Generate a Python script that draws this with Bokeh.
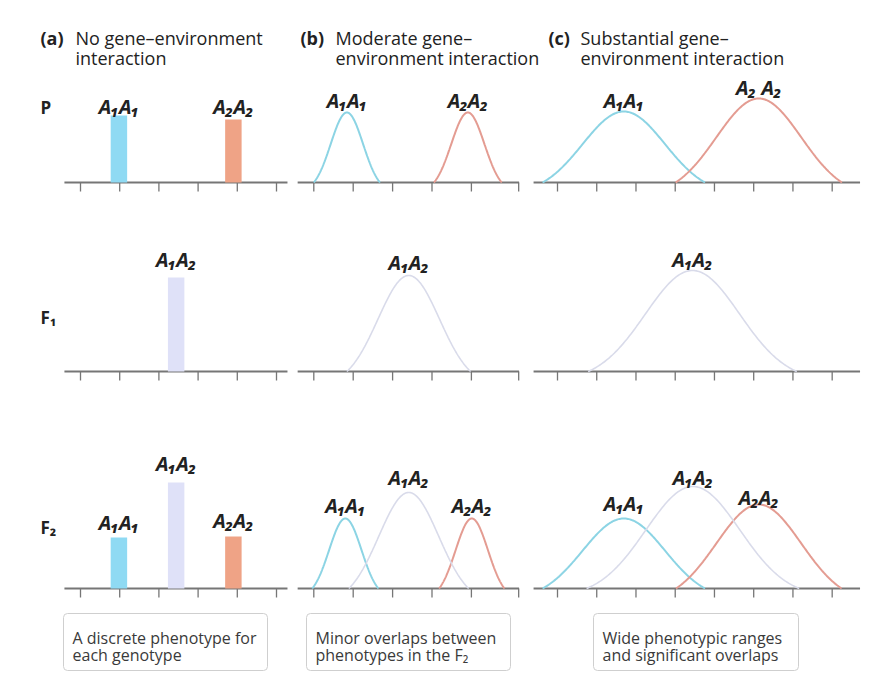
import numpy as np
from bokeh.plotting import figure
from bokeh.models import Range1d, ColumnDataSource
from bokeh.core.properties import value
from bokeh.embed import file_html
from bokeh.resources import INLINE

# ---------------- data ----------------
# phenotype axis ticks (arbitrary phenotype units) for each panel
TICKS_A = [0, 1, 2, 3, 4, 5]
TICKS_B = [0, 1, 2, 3, 4, 5.2]
TICKS_C = [0, 1, 2, 3, 4, 5, 6, 7]
AXIS_A = [-0.41, 5.28]
AXIS_B = [-0.41, 5.21]
AXIS_C = [-0.61, 7.71]

# (a) no gene-environment interaction: one discrete phenotype per genotype
A_P_GENO = ["A₁A₁", "A₂A₂"]
A_P_X = [0.98, 3.90]
A_P_H = [0.67, 0.63]
A_F1_GENO = ["A₁A₂"]
A_F1_X = [2.44]
A_F1_H = [0.94]
A_F2_GENO = ["A₁A₁", "A₁A₂", "A₂A₂"]
A_F2_X = [0.98, 2.44, 3.90]
A_F2_H = [0.51, 1.06, 0.52]

# (b) moderate interaction: phenotype distributions (mean, spread, peak, half-range)
B_P_GENO = ["A₁A₁", "A₂A₂"]
B_P_MEAN = [0.84, 3.91]
B_P_SD = [0.41, 0.42]
B_P_PEAK = [0.70, 0.70]
B_P_HALF = [0.84, 0.86]
B_F1_GENO = ["A₁A₂"]
B_F1_MEAN = [2.41]
B_F1_SD = [0.78]
B_F1_PEAK = [0.96]
B_F1_HALF = [1.57]
B_F2_GENO = ["A₁A₁", "A₁A₂", "A₂A₂"]
B_F2_MEAN = [0.80, 2.41, 4.01]
B_F2_SD = [0.41, 0.76, 0.41]
B_F2_PEAK = [0.70, 0.96, 0.70]
B_F2_HALF = [0.84, 1.52, 0.83]

# (c) substantial interaction
C_P_GENO = ["A₁A₁", "A₂ A₂"]
C_P_MEAN = [1.69, 5.13]
C_P_SD = [1.05, 1.08]
C_P_PEAK = [0.71, 0.84]
C_P_HALF = [2.07, 2.12]
C_F1_GENO = ["A₁A₂"]
C_F1_MEAN = [3.44]
C_F1_SD = [1.20]
C_F1_PEAK = [1.01]
C_F1_HALF = [2.66]
C_F2_GENO = ["A₁A₁", "A₁A₂", "A₂A₂"]
C_F2_MEAN = [1.69, 3.45, 5.13]
C_F2_SD = [1.05, 1.20, 1.08]
C_F2_PEAK = [0.70, 1.02, 0.84]
C_F2_HALF = [2.07, 2.71, 2.11]

HEADERS = [("(a)", "No gene–environment", "interaction"),
           ("(b)", "Moderate gene–", "environment interaction"),
           ("(c)", "Substantial gene–", "environment interaction")]
ROW_LABELS = ["P", "F₁", "F₂"]
NOTES = [("A discrete phenotype for", "each genotype"),
         ("Minor overlaps between", "phenotypes in the F₂"),
         ("Wide phenotypic ranges", "and significant overlaps")]

# ---------------- styles / layout ----------------
BAR_COL = {"A₁A₁": "#8fdaf3", "A₁A₂": "#dfe1f8", "A₂A₂": "#efa386"}
LINE_COL = {"A₁A₁": "#8cd4e4", "A₁A₂": "#d9dbea", "A₂A₂": "#e49c92"}
AXIS_COL = "#767676"
W, H = 870, 682
S = 100.0                       # px per frequency unit
COLS = {"a": (80.0, 39.2), "b": (313.3, 39.4), "c": (557.0, 39.24)}
ROWS = {"P": 182.0, "F1": 371.0, "F2": 588.0}
GAPS = {("a", "P"): [9, 13], ("a", "F1"): [18], ("a", "F2"): [15, 19, 16],
        ("b", "P"): [12, 12], ("b", "F1"): [13], ("b", "F2"): [13, 15, 13],
        ("c", "P"): [11, 11], ("c", "F1"): [11], ("c", "F2"): [15, 9, 7]}
FONT = value("Open Sans")
LFONT = value("Noto Sans")

p = figure(width=W, height=H, x_range=Range1d(0, W), y_range=Range1d(H, 0),
           output_backend="svg", toolbar_location=None,
           x_axis_location=None, y_axis_location=None, min_border=0,
           outline_line_color=None, background_fill_color="white",
           border_fill_color="white")
p.xgrid.visible = False
p.ygrid.visible = False
p.extra_x_ranges = {k: Range1d((0 - x0) / s, (W - x0) / s) for k, (x0, s) in COLS.items()}
p.extra_y_ranges = {k: Range1d((y0 - H) / S, y0 / S) for k, y0 in ROWS.items()}

# axes
for col, ticks, ext in (("a", TICKS_A, AXIS_A), ("b", TICKS_B, AXIS_B), ("c", TICKS_C, AXIS_C)):
    for row in ROWS:
        p.segment(x0=[ext[0]], y0=[0], x1=[ext[1]], y1=[0], line_color=AXIS_COL,
                  line_width=2, x_range_name=col, y_range_name=row)
        p.segment(x0=ticks, y0=[0] * len(ticks), x1=ticks, y1=[-0.09] * len(ticks),
                  line_color=AXIS_COL, line_width=1.3, x_range_name=col, y_range_name=row)


def labels(col, row, geno, xs, tops):
    src = ColumnDataSource(dict(x=xs, y=tops, t=geno,
                                off=[-g for g in GAPS[(col, row)]]))
    p.text(x="x", y="y", text="t", y_offset="off", source=src,
           text_align="center", text_baseline="alphabetic", text_font=LFONT,
           text_font_style="bold italic", text_font_size="20px", text_color="#222222",
           x_range_name=col, y_range_name=row)


# (a) bars
for row, geno, xs, hs in (("P", A_P_GENO, A_P_X, A_P_H), ("F1", A_F1_GENO, A_F1_X, A_F1_H),
                          ("F2", A_F2_GENO, A_F2_X, A_F2_H)):
    p.vbar(x=xs, top=hs, bottom=0, width=0.42, fill_color=[BAR_COL[g] for g in geno],
           line_color=None, x_range_name="a", y_range_name=row)
    labels("a", row, geno, xs, hs)


def bell(mean, sd, peak, half):
    xs = np.linspace(mean - half, mean + half, 161)
    g = np.exp(-0.5 * ((xs - mean) / sd) ** 2)
    g0 = np.exp(-0.5 * (half / sd) ** 2)
    return xs, peak * (g - g0) / (1 - g0)


panels = [("b", "P", B_P_GENO, B_P_MEAN, B_P_SD, B_P_PEAK, B_P_HALF),
          ("b", "F1", B_F1_GENO, B_F1_MEAN, B_F1_SD, B_F1_PEAK, B_F1_HALF),
          ("b", "F2", B_F2_GENO, B_F2_MEAN, B_F2_SD, B_F2_PEAK, B_F2_HALF),
          ("c", "P", C_P_GENO, C_P_MEAN, C_P_SD, C_P_PEAK, C_P_HALF),
          ("c", "F1", C_F1_GENO, C_F1_MEAN, C_F1_SD, C_F1_PEAK, C_F1_HALF),
          ("c", "F2", C_F2_GENO, C_F2_MEAN, C_F2_SD, C_F2_PEAK, C_F2_HALF)]
for col, row, geno, mean, sd, peak, half in panels:
    order = sorted(range(len(geno)), key=lambda i: geno[i].replace(" ", "") != "A₁A₂", reverse=True)
    for i in order:
        g = geno[i].replace(" ", "")
        xs, ys = bell(mean[i], sd[i], peak[i], half[i])
        p.line(xs, ys, line_color=LINE_COL[g], line_width=2 if g != "A₁A₂" else 1.6,
               x_range_name=col, y_range_name=row)
    labels(col, row, geno, mean, peak)

# headers
for (tag, l1, l2), xt, xl in zip(HEADERS, [40, 300, 548], [75, 335, 580]):
    p.text(x=[xt], y=[37], text=[tag], text_font=FONT, text_font_style="bold",
           text_font_size="18px", text_color="#222222", text_baseline="alphabetic")
    p.text(x=[xl, xl], y=[37, 57], text=[l1, l2], text_font=FONT,
           text_font_size="18px", text_color="#222222", text_baseline="alphabetic")

# row labels
p.text(x=[40, 40, 40], y=[107, 317, 527], text=ROW_LABELS, text_font=FONT,
       text_font_style="bold", text_font_size="17px", text_color="#222222",
       text_baseline="alphabetic")

# note boxes
p.quad(left=[63, 306, 593], right=[267, 510, 798], top=[613] * 3, bottom=[670] * 3,
       fill_color="white", line_color="#cfcfcf", line_width=1, border_radius=4)
for (l1, l2), xl in zip(NOTES, [72, 315, 602]):
    p.text(x=[xl, xl], y=[637, 654], text=[l1, l2], text_font=FONT,
           text_font_size="16px", text_color="#3a3a3a", text_baseline="alphabetic")

open("out.html", "w").write(file_html(p, INLINE))
